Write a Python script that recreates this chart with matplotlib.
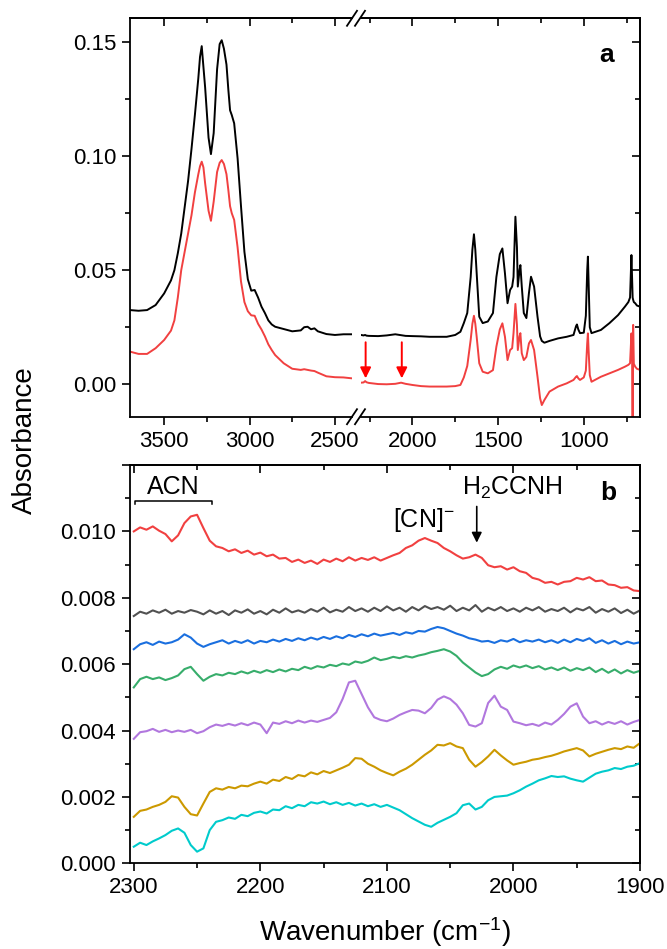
import numpy as np
import matplotlib
matplotlib.use('Agg')
import matplotlib.pyplot as plt
from matplotlib.ticker import MultipleLocator, FormatStrFormatter, FuncFormatter
from matplotlib.lines import Line2D

plt.rcParams['font.family'] = ['Liberation Sans', 'DejaVu Sans']
plt.rcParams['mathtext.fontset'] = 'custom'
plt.rcParams['mathtext.rm'] = 'Liberation Sans'
plt.rcParams['mathtext.it'] = 'Liberation Sans:italic'
plt.rcParams['mathtext.bf'] = 'Liberation Sans:bold'

#==============================================================================
# Panel a data
#==============================================================================
wn_a_hi = [3700, 3650, 3600, 3550, 3500, 3460, 3440, 3420, 3400, 3380,
           3360, 3340, 3320, 3300, 3290, 3280, 3270, 3260, 3240, 3226,
           3210, 3190, 3175, 3163, 3150, 3135, 3124, 3114, 3104, 3090,
           3070, 3050, 3030, 3010, 2990, 2970, 2950, 2930, 2910, 2890,
           2870, 2850, 2800, 2750, 2700, 2680, 2660, 2640, 2620, 2600,
           2550, 2500, 2450, 2400]
black_hi = [.0325, .0322, .0325, .0347, .0398, .0455, .0500, .0574, .0660, .0775,
            .0890, .1030, .1180, .1340, .1434, .1481, .1390, .1300, .1080, .1008,
            .1100, .1380, .1490, .1507, .1470, .1400, .1289, .1200, .1179, .1143,
            .0990, .0780, .0580, .0460, .0410, .0413, .0380, .0340, .0312, .0280,
            .0262, .0252, .0242, .0232, .0236, .0250, .0252, .0241, .0245, .0232,
            .0220, .0216, .0219, .0219]
red_hi = [.0143, .0133, .0133, .0158, .0194, .0235, .0280, .0380, .0500, .0580,
          .0660, .0740, .0840, .0920, .0955, .0975, .0950, .0880, .0760, .0716,
          .0800, .0930, .0970, .0982, .0965, .0920, .0850, .0780, .0749, .0720,
          .0600, .0450, .0360, .0320, .0302, .0300, .0265, .0240, .0210, .0175,
          .0150, .0128, .0092, .0068, .0063, .0066, .0063, .0060, .0058, .0051,
          .0035, .0031, .0030, .0026]

wn_a_lo = [2300, 2285, 2276, 2268, 2255, 2200, 2150, 2100, 2066, 2040,
           2000, 1950, 1900, 1800, 1750, 1720, 1700, 1680, 1660, 1650,
           1641, 1633, 1625, 1610, 1590, 1560, 1530, 1510, 1490, 1475,
           1460, 1445, 1430, 1418, 1410, 1399, 1390, 1385, 1375, 1370,
           1362, 1350, 1335, 1320, 1308, 1290, 1270, 1255, 1245, 1230,
           1200, 1150, 1100, 1060, 1045, 1040, 1032, 1022, 1000, 988,
           980, 976, 972, 965, 955, 900, 850, 800, 760, 740,
           730, 722, 718, 715, 712, 708, 700, 690, 672]
black_lo = [.0216, .0214, .0216, .0213, .0212, .0211, .0214, .0219, .0215, .0212,
            .0211, .0210, .0208, .0208, .0216, .0230, .0268, .0312, .0470, .0590,
            .0657, .0590, .0486, .0296, .0268, .0275, .0312, .0470, .0570, .0595,
            .0486, .0355, .0413, .0428, .0470, .0734, .0600, .0428, .0500, .0522,
            .0430, .0312, .0290, .0400, .0471, .0428, .0296, .0210, .0190, .0182,
            .0190, .0201, .0208, .0216, .0255, .0262, .0240, .0224, .0226, .0300,
            .0500, .0559, .0450, .0250, .0224, .0238, .0268, .0303, .0340, .0360,
            .0380, .0566, .0460, .0380, .0370, .0360, .0355, .0345, .0340]
red_lo = [.0007, .0008, .0014, .0009, .0006, .0001, .0000, .0002, .0007, .0002,
          -.0003, -.0008, -.0010, -.0010, -.0008, -.0003, .0030, .0080, .0195, .0265,
          .0300, .0265, .0208, .0092, .0055, .0048, .0062, .0165, .0240, .0267,
          .0208, .0106, .0150, .0158, .0224, .0352, .0260, .0150, .0210, .0224,
          .0136, .0106, .0120, .0179, .0194, .0150, .0033, -.0061, -.0091, -.0069,
          -.0032, -.0010, .0004, .0019, .0033, .0036, .0026, .0019, .0030, .0060,
          .0180, .0223, .0150, .0040, .0011, .0033, .0048, .0063, .0077, .0085,
          .0092, .0223, .0120, -.0200, .0260, .0090, .0077, .0068, .0063]

arrow_a_wn = [2273, 2062]

#==============================================================================
# Panel b data (units of 1e-3 absorbance, every 5 cm-1 from 2300 to 1900)
#==============================================================================
wn_b = np.arange(2300, 1899, -5)
b_red = [10.00, 10.12, 10.05, 10.15, 10.02, 9.92, 9.70, 9.88, 10.25,
         10.45, 10.50, 10.10, 9.72, 9.55, 9.50, 9.40, 9.46, 9.35,
         9.42, 9.30, 9.36, 9.25, 9.30, 9.18, 9.20, 9.08, 9.15,
         9.05, 9.12, 9.02, 9.15, 9.08, 9.18, 9.10, 9.22, 9.12,
         9.20, 9.14, 9.22, 9.12, 9.20, 9.28, 9.35, 9.50, 9.58,
         9.72, 9.80, 9.72, 9.65, 9.50, 9.40, 9.28, 9.18, 9.22,
         9.30, 9.20, 8.98, 8.92, 8.95, 8.85, 8.92, 8.80, 8.75,
         8.60, 8.55, 8.45, 8.48, 8.40, 8.48, 8.50, 8.60, 8.55,
         8.62, 8.50, 8.52, 8.40, 8.38, 8.30, 8.32, 8.22, 8.20]
b_gray = [7.45, 7.58, 7.52, 7.62, 7.55, 7.64, 7.52, 7.60, 7.55,
          7.63, 7.58, 7.50, 7.62, 7.52, 7.60, 7.48, 7.62, 7.55,
          7.65, 7.52, 7.60, 7.50, 7.64, 7.55, 7.68, 7.56, 7.62,
          7.55, 7.66, 7.58, 7.70, 7.56, 7.64, 7.58, 7.72, 7.60,
          7.68, 7.58, 7.70, 7.60, 7.74, 7.62, 7.70, 7.58, 7.72,
          7.62, 7.75, 7.66, 7.72, 7.64, 7.76, 7.60, 7.70, 7.62,
          7.78, 7.58, 7.70, 7.62, 7.72, 7.60, 7.68, 7.58, 7.70,
          7.62, 7.72, 7.58, 7.66, 7.60, 7.70, 7.56, 7.68, 7.62,
          7.72, 7.55, 7.66, 7.58, 7.68, 7.54, 7.64, 7.52, 7.62]
b_blue = [6.45, 6.60, 6.66, 6.58, 6.68, 6.62, 6.66, 6.74, 6.90,
          6.80, 6.62, 6.52, 6.60, 6.66, 6.72, 6.62, 6.70, 6.64,
          6.72, 6.62, 6.70, 6.66, 6.74, 6.68, 6.76, 6.70, 6.78,
          6.72, 6.80, 6.74, 6.82, 6.76, 6.84, 6.78, 6.88, 6.82,
          6.90, 6.84, 6.92, 6.86, 6.90, 6.94, 6.88, 6.96, 6.92,
          7.00, 6.98, 7.06, 7.12, 7.08, 7.00, 6.92, 6.86, 6.78,
          6.74, 6.68, 6.70, 6.64, 6.72, 6.68, 6.76, 6.66, 6.72,
          6.68, 6.74, 6.66, 6.72, 6.64, 6.74, 6.66, 6.76, 6.70,
          6.78, 6.64, 6.72, 6.62, 6.70, 6.60, 6.68, 6.62, 6.66]
b_green = [5.30, 5.55, 5.62, 5.55, 5.60, 5.52, 5.58, 5.66, 5.85,
           5.92, 5.70, 5.50, 5.62, 5.70, 5.66, 5.74, 5.70, 5.78,
           5.72, 5.80, 5.74, 5.82, 5.76, 5.84, 5.78, 5.86, 5.82,
           5.92, 5.86, 5.94, 5.90, 5.98, 5.94, 6.02, 5.98, 6.08,
           6.04, 6.10, 6.20, 6.12, 6.16, 6.22, 6.18, 6.24, 6.20,
           6.26, 6.30, 6.36, 6.40, 6.45, 6.38, 6.25, 6.05, 5.90,
           5.75, 5.64, 5.70, 5.84, 5.92, 5.86, 5.96, 5.90, 5.96,
           5.88, 5.94, 5.84, 5.90, 5.82, 5.90, 5.80, 5.88, 5.82,
           5.90, 5.76, 5.86, 5.74, 5.84, 5.72, 5.82, 5.74, 5.80]
b_purple = [3.75, 3.95, 3.98, 4.05, 3.96, 4.02, 3.95, 4.00, 3.96,
            4.02, 3.92, 3.98, 4.10, 4.18, 4.14, 4.20, 4.15, 4.22,
            4.16, 4.24, 4.18, 3.92, 4.24, 4.20, 4.28, 4.22, 4.30,
            4.24, 4.30, 4.26, 4.32, 4.38, 4.55, 4.95, 5.45, 5.50,
            5.10, 4.70, 4.40, 4.32, 4.28, 4.36, 4.47, 4.55, 4.62,
            4.60, 4.52, 4.68, 4.93, 5.03, 4.95, 4.78, 4.52, 4.17,
            4.12, 4.22, 4.83, 5.05, 4.72, 4.62, 4.27, 4.22, 4.16,
            4.20, 4.14, 4.24, 4.18, 4.32, 4.50, 4.72, 4.82, 4.42,
            4.22, 4.28, 4.18, 4.26, 4.20, 4.28, 4.18, 4.26, 4.32]
b_gold = [1.40, 1.58, 1.62, 1.70, 1.76, 1.85, 2.02, 1.98, 1.70,
          1.48, 1.44, 1.80, 2.15, 2.26, 2.22, 2.30, 2.26, 2.34,
          2.32, 2.40, 2.46, 2.40, 2.52, 2.48, 2.60, 2.54, 2.66,
          2.62, 2.74, 2.68, 2.78, 2.72, 2.80, 2.88, 2.97, 3.17,
          3.15, 3.00, 2.91, 2.80, 2.72, 2.65, 2.76, 2.85, 2.97,
          3.12, 3.27, 3.40, 3.57, 3.55, 3.62, 3.52, 3.47, 3.12,
          2.91, 3.05, 3.22, 3.42, 3.25, 3.10, 2.97, 3.02, 3.06,
          3.12, 3.15, 3.20, 3.24, 3.30, 3.37, 3.42, 3.47, 3.40,
          3.22, 3.30, 3.36, 3.42, 3.47, 3.44, 3.52, 3.48, 3.62]
b_cyan = [0.50, 0.62, 0.55, 0.66, 0.75, 0.85, 0.98, 1.05, 0.92,
          0.55, 0.35, 0.45, 1.00, 1.25, 1.30, 1.38, 1.34, 1.46,
          1.42, 1.52, 1.56, 1.50, 1.62, 1.60, 1.72, 1.66, 1.76,
          1.72, 1.84, 1.80, 1.86, 1.78, 1.84, 1.76, 1.82, 1.74,
          1.80, 1.72, 1.78, 1.70, 1.76, 1.68, 1.60, 1.48, 1.36,
          1.26, 1.16, 1.10, 1.22, 1.31, 1.40, 1.51, 1.75, 1.80,
          1.62, 1.70, 1.90, 2.00, 2.02, 2.04, 2.11, 2.20, 2.31,
          2.40, 2.50, 2.56, 2.63, 2.60, 2.62, 2.55, 2.50, 2.46,
          2.58, 2.70, 2.76, 2.80, 2.87, 2.84, 2.91, 2.94, 3.02]

series_b = [b_red, b_gray, b_blue, b_green, b_purple, b_gold, b_cyan]
colors_b = ['#F14040', '#515151', '#1A6FDF', '#37AD6B', '#B177DE', '#CC9900', '#00CBCC']

#==============================================================================
# Layout helpers
#==============================================================================
W, H = 667, 949
fig = plt.figure(figsize=(W / 100, H / 100), dpi=100)


def box(x0, y0, x1, y1):
    # pixel box (top-left origin) -> figure fraction rect
    return [x0 / W, 1 - y1 / H, (x1 - x0) / W, (y1 - y0) / H]


def ticks(ax, xmaj, xmin, ymaj, ymin, leftside=True, rightside=True):
    ax.xaxis.set_major_locator(MultipleLocator(xmaj))
    ax.xaxis.set_minor_locator(MultipleLocator(xmin))
    ax.yaxis.set_major_locator(MultipleLocator(ymaj))
    ax.yaxis.set_minor_locator(MultipleLocator(ymin))
    ax.tick_params(which='both', direction='out', width=1.2, labelsize=16,
                   top=False, right=False, left=leftside, labelleft=leftside)
    ax.tick_params(which='major', length=6, pad=4)
    ax.tick_params(which='minor', length=3.5)
    for s in ax.spines.values():
        s.set_linewidth(1.3)
    top = ax.secondary_xaxis('top')
    top.xaxis.set_major_locator(MultipleLocator(xmaj))
    top.xaxis.set_minor_locator(MultipleLocator(xmin))
    top.tick_params(which='both', direction='in', width=1.2, labeltop=False)
    top.tick_params(which='major', length=6)
    top.tick_params(which='minor', length=3.5)
    top.spines['top'].set_linewidth(1.3)
    if rightside:
        rt = ax.secondary_yaxis('right')
        rt.yaxis.set_major_locator(MultipleLocator(ymaj))
        rt.yaxis.set_minor_locator(MultipleLocator(ymin))
        rt.tick_params(which='both', direction='in', width=1.2, labelright=False)
        rt.tick_params(which='major', length=6)
        rt.tick_params(which='minor', length=3.5)
        rt.spines['right'].set_linewidth(1.3)


#==============================================================================
# Panel a (broken x axis)
#==============================================================================
ya = (-0.0142, 0.1603)
ax1 = fig.add_axes(box(130, 18.3, 352, 416.7))
ax2 = fig.add_axes(box(361, 18.3, 640, 416.7))

ax1.plot(wn_a_hi, black_hi, color='k', lw=1.4)
ax1.plot(wn_a_hi, red_hi, color='#F14040', lw=1.4)
ax2.plot(wn_a_lo, black_lo, color='k', lw=1.4)
ax2.plot(wn_a_lo, red_lo, color='#F14040', lw=1.4)

ax1.set_xlim(3700, 2400)
ax2.set_xlim(2300, 672)
for ax in (ax1, ax2):
    ax.set_ylim(*ya)
ax1.spines['right'].set_visible(False)
ax2.spines['left'].set_visible(False)
ticks(ax1, 500, 250, 0.05, 0.025, leftside=True, rightside=False)
ticks(ax2, 500, 250, 0.05, 0.025, leftside=False, rightside=True)
ax1.yaxis.set_major_formatter(FormatStrFormatter('%.2f'))

for w in arrow_a_wn:
    ax2.annotate('', xy=(w, 0.0026), xytext=(w, 0.0184),
                 arrowprops=dict(arrowstyle='-|>', color='red', lw=1.4,
                                 mutation_scale=16, shrinkA=0, shrinkB=0))

# break marks
for sy in (18.3, 416.7):
    for x0 in (347, 355):
        fig.add_artist(Line2D([x0 / W, (x0 + 10) / W],
                              [1 - (sy + 7.5) / H, 1 - (sy - 7.5) / H],
                              color='k', lw=1.3))

fig.text(607 / W, 1 - 55 / H, 'a', ha='center', va='center',
         fontsize=19, fontweight='bold')

#==============================================================================
# Panel b
#==============================================================================
axb = fig.add_axes(box(130, 465, 640, 863.3))
for vals, c in zip(series_b, colors_b):
    axb.plot(wn_b, np.array(vals) * 1e-3, color=c, lw=1.5)
axb.set_xlim(2303, 1900)
axb.set_ylim(0, 0.012)
ticks(axb, 100, 50, 0.002, 0.001)
axb.yaxis.set_major_formatter(
    FuncFormatter(lambda v, p: '' if v > 0.0115 else '%.3f' % v))

# ACN bracket
acn_x = (2299, 2238)
acn_y = 0.01093
axb.plot([acn_x[0], acn_x[0], acn_x[1], acn_x[1]],
         [acn_y - 0.0001, acn_y, acn_y, acn_y - 0.0001], color='k', lw=1.1)
axb.text(2269, 0.01114, 'ACN', ha='center', va='baseline', fontsize=18)
axb.text(2071, 0.01014, '[CN]$^{-}$', ha='center', va='baseline', fontsize=18)
axb.text(2001, 0.01111, 'H$_2$CCNH', ha='center', va='baseline', fontsize=18)
axb.annotate('', xy=(2029, 0.00966), xytext=(2029, 0.01075),
             arrowprops=dict(arrowstyle='-|>', color='k', lw=1.2,
                             mutation_scale=15, shrinkA=0, shrinkB=0))
fig.text(608 / W, 1 - 493 / H, 'b', ha='center', va='center',
         fontsize=19, fontweight='bold')

#==============================================================================
# Shared labels
#==============================================================================
fig.text(25 / W, 1 - 440 / H, 'Absorbance', rotation=90, ha='center',
         va='center', fontsize=20)
fig.text(385 / W, 1 - 941 / H, 'Wavenumber (cm$^{-1}$)', ha='center',
         va='baseline', fontsize=20)

fig.savefig('out.png', dpi=100)
